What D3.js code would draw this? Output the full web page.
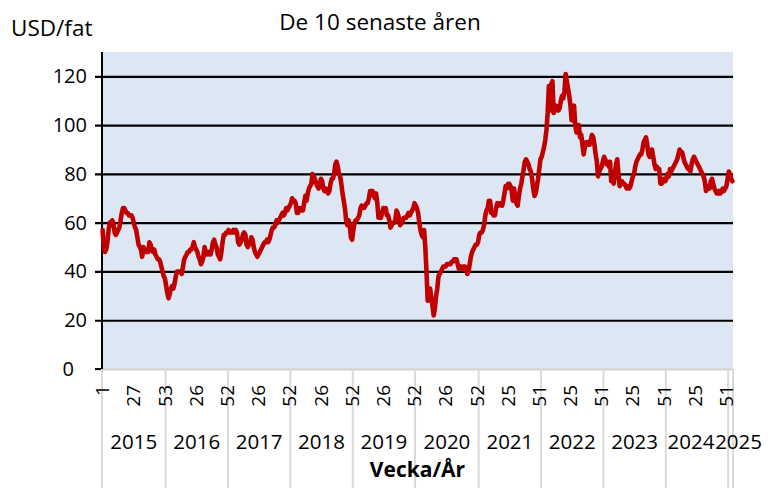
<!DOCTYPE html>
<html><head><meta charset="utf-8">
<script src="https://cdn.jsdelivr.net/npm/d3@7"></script>
<style>
body{margin:0;background:#fff;}
text{font-family:"Open Sans","Noto Sans",sans-serif;fill:#000;}
</style></head>
<body><svg id="chart" width="776" height="488"></svg>
<script>
const years = [2015,2016,2017,2018,2019,2020,2021,2022,2023,2024,2025];
const p2015 = [57,50,48,49,52,57,60,59,61,60,56,55,56,57,58,61,64,66,66,65,64,64,63,63,63,62,60,58,57,54,51,50,49,46,50,49,48,48,48,52,51,49,48,49,47,46,45,45,44,42,40,38,37];
const p2016 = [34,31,29,31,33,34,33,35,38,40,40,40,40,39,42,45,46,47,48,48,49,49,50,52,50,49,48,46,45,43,44,46,50,48,47,48,47,47,49,52,53,51,50,47,46,45,48,52,55,55,56,56];
const p2017 = [57,56,56,56,57,56,57,56,52,51,52,53,55,56,55,51,50,51,52,54,53,50,48,47,46,47,48,49,50,51,52,52,53,52,53,55,57,58,58,59,61,60,61,62,63,64,63,64,66,65,66,67];
const p2018 = [68,70,69,69,68,64,64,66,65,66,65,68,71,69,72,74,75,76,80,79,78,76,75,74,76,78,77,74,73,74,73,72,73,76,78,78,80,84,85,83,80,79,76,72,69,66,61,59,61,59,54,53];
const p2019 = [57,60,61,61,62,63,66,67,66,66,67,68,68,70,73,72,73,71,70,72,68,62,63,62,64,66,65,66,63,63,61,58,59,60,60,61,65,64,62,59,60,60,62,62,62,63,64,63,64,65,66,68];
const p2020 = [67,66,64,60,57,55,54,57,50,40,28,30,33,29,26,22,25,30,33,38,39,40,41,42,42,42,43,43,43,43,44,44,45,45,45,43,41,42,42,41,42,42,41,39,40,43,46,48,49,50,51,51,52];
const p2021 = [55,56,56,57,59,63,65,66,69,69,64,64,63,63,66,68,67,68,68,67,69,72,75,74,76,76,75,73,69,74,70,68,67,71,74,76,79,82,85,86,85,84,82,81,78,74,71,72,75,78,82,86];
const p2022 = [87,89,91,94,98,105,116,106,117,118,105,106,108,107,106,107,110,112,111,114,121,118,115,112,108,102,106,108,100,97,99,100,95,96,92,88,91,93,92,93,92,94,96,95,92,88,85,79,81,82,83,85];
const p2023 = [87,86,84,85,83,85,77,78,76,80,84,86,80,75,76,77,76,76,75,74,75,74,75,77,79,80,83,85,86,87,88,88,90,93,94,95,92,88,87,89,90,87,84,82,83,82,82,76,76,77,78,77];
const p2024 = [78,80,79,82,81,82,83,84,85,86,88,90,89,89,87,85,84,83,82,82,81,84,86,87,86,85,84,83,82,81,80,79,77,73,74,75,74,77,78,76,74,73,72,72,73,72,73,74,73,74,75,78];
const p2025 = [81,80,78,77];
const seriesByYear = [p2015,p2016,p2017,p2018,p2019,p2020,p2021,p2022,p2023,p2024,p2025];
const yTicks = [0,20,40,60,80,100,120];
const titleText = "De 10 senaste åren";
const yUnit = "USD/fat";
const xTitle = "Vecka/År";

// build categories
const cats = [];
seriesByYear.forEach((arr,yi)=>arr.forEach((v,wi)=>cats.push({year:years[yi],week:wi+1,value:v,idx:cats.length})));

const svg = d3.select("#chart");
const L=102, R=733, T=52, B=369;
const x = d3.scaleBand().domain(cats.map(d=>d.idx)).range([L,R]).padding(0);
const y = d3.scaleLinear().domain([0,130]).range([B,T]);

// plot background
svg.append("rect").attr("x",L).attr("y",T).attr("width",R-L).attr("height",B-T).attr("fill","#dce7f3");

// y axis with gridlines
const ya = svg.append("g").attr("transform",`translate(${R},0)`)
  .call(d3.axisLeft(y).tickValues(yTicks).tickSize(R-95).tickPadding(8).tickFormat(d3.format("d")));
ya.select(".domain").remove();
ya.selectAll(".tick line").attr("stroke",d=>d===0?"#d0d0d0":"#000").attr("stroke-width",2.2);
ya.selectAll(".tick text").attr("font-size",20).attr("dx",d=>d===0?-13:0);
// black tick at 0
svg.append("line").attr("x1",95).attr("x2",L).attr("y1",y(0)).attr("y2",y(0)).attr("stroke","#000").attr("stroke-width",2);

// year separators
const yearStarts = [];
let acc=0;
seriesByYear.forEach((arr,yi)=>{yearStarts.push({year:years[yi],start:acc,n:arr.length});acc+=arr.length;});
const sepX = yearStarts.map(d=>L + d.start*x.step()).concat([R]);
svg.selectAll("line.sep").data(sepX).enter().append("line").attr("class","sep")
  .attr("x1",d=>d).attr("x2",d=>d).attr("y1",B).attr("y2",488)
  .attr("stroke","#d9d9d9").attr("stroke-width",2);

// y axis line
svg.append("line").attr("x1",L).attr("x2",L).attr("y1",T).attr("y2",B).attr("stroke","#000").attr("stroke-width",2);

// week labels
const labeled = cats.filter(d=>d.idx%26===0);
svg.selectAll("text.wk").data(labeled).enter().append("text").attr("class","wk")
  .attr("transform",d=>`translate(${x(d.idx)+x.bandwidth()/2},385) rotate(-90)`)
  .attr("text-anchor","end").attr("dy","0.35em").attr("font-size",19).text(d=>d.week);

// year labels
const yl = yearStarts.map(d=>({year:d.year,cx:L+(d.start+d.n/2)*x.step()}));
yl.forEach((d,i)=>{ if(d.year===2024) d.cx-=6; if(d.year===2025) d.cx+=8; });
svg.selectAll("text.yr").data(yl).enter().append("text").attr("class","yr")
  .attr("x",d=>d.cx).attr("y",449).attr("text-anchor","middle").attr("font-size",20.5).text(d=>d.year);

// line
const line = d3.line().x(d=>x(d.idx)+x.bandwidth()/2).y(d=>y(d.value));
svg.append("path").datum(cats).attr("d",line).attr("fill","none")
  .attr("stroke","#c00000").attr("stroke-width",4.6).attr("stroke-linejoin","round").attr("stroke-linecap","round");

// texts
svg.append("text").attr("x",380).attr("y",30).attr("text-anchor","middle").attr("font-size",22.5).text(titleText);
svg.append("text").attr("x",11).attr("y",36).attr("font-size",22.5).text(yUnit);
svg.append("text").attr("x",(L+R)/2).attr("y",477).attr("text-anchor","middle").attr("font-size",21).attr("font-weight","bold").text(xTitle);
</script></body></html>
